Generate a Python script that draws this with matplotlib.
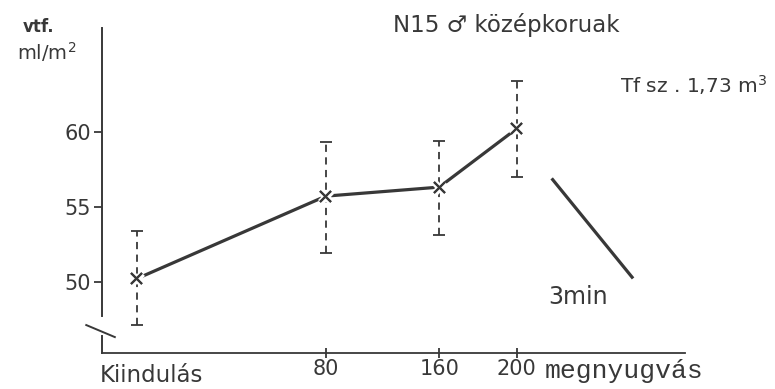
import matplotlib.pyplot as plt
from matplotlib import patheffects as pe

# terhelési szakaszok (Kiindulás, 80, 160, 200 W) és a megnyugvás
stage_labels = ["80", "160", "200"]
stage_pos = [0.0, 1.0, 1.6, 2.01]
vtf_mean = [50.2, 55.7, 56.3, 60.2]
vtf_hi = [53.4, 59.3, 59.4, 63.4]
vtf_lo = [47.1, 51.9, 53.1, 57.0]

# 3 perces megnyugvási szakasz
recovery_pos = [2.2, 2.62]
recovery_vals = [56.8, 50.3]

y_ticks = [50, 55, 60]

ink = "#383838"
plt.rcParams['font.family'] = ['DejaVu Sans']

fig = plt.figure(figsize=(7.75, 3.89), dpi=100)
ax = fig.add_axes([102 / 775, 36 / 389, 583 / 775, 325 / 389])
ax.set_xlim(-0.184, 2.90)
ax.set_ylim(45.25, 66.9)

# hibasávok szaggatott vonallal
err = ax.errorbar(stage_pos, vtf_mean,
                  yerr=[[m - lo for m, lo in zip(vtf_mean, vtf_lo)],
                        [hi - m for m, hi in zip(vtf_mean, vtf_hi)]],
                  fmt='none', ecolor=ink, elinewidth=1.3, capsize=4.5,
                  capthick=1.3)
err[2][0].set_linestyle((0, (4, 3)))

ax.plot(stage_pos, vtf_mean, color=ink, lw=2.3, solid_capstyle='butt')
ax.plot(stage_pos, vtf_mean, ls='none', marker='x', ms=8, mew=1.5,
        color=ink, path_effects=[pe.withStroke(linewidth=5, foreground='white'),
                                 pe.Normal()])
ax.plot(recovery_pos, recovery_vals, color=ink, lw=2.3)

# tengelyek: megszakított y tengely
for s in ['top', 'right', 'left']:
    ax.spines[s].set_visible(False)
ax.spines['bottom'].set_color(ink)
ax.spines['bottom'].set_linewidth(1.3)
ax.plot([0, 0], [0.114, 1.0], transform=ax.transAxes, color=ink, lw=1.4,
        clip_on=False)
ax.plot([0, 0], [0.0, 0.052], transform=ax.transAxes, color=ink, lw=1.4,
        clip_on=False)
ax.plot([-0.027, 0.022], [0.086, 0.049], transform=ax.transAxes, color=ink,
        lw=1.4, clip_on=False)

ax.set_yticks(y_ticks)
ax.set_yticklabels([str(t) for t in y_ticks], fontsize=15, color=ink)
ax.tick_params(axis='y', length=6, width=1.3, color=ink, pad=2)

ax.set_xticks(stage_pos[1:])
ax.set_xticklabels(stage_labels, fontsize=15, color=ink)
ax.tick_params(axis='x', direction='inout', length=7, width=1.3, color=ink,
               pad=1)

fig.text(100 / 775, 1 - 375 / 389, "Kiindulás", ha='left', va='center',
         fontsize=16.5, color=ink)
fig.text(545 / 775, 1 - 371 / 389, "megnyugvás", ha='left', va='center',
         fontsize=19, color=ink, family='Liberation Mono')

ax.text(2.176, 49.0, "3min", ha='left', va='center', fontsize=17, color=ink)

fig.text(39 / 775, 1 - 27 / 389, "vtf.", ha='center', va='center',
         fontsize=12, color=ink, weight='bold')
fig.text(47 / 775, 1 - 52 / 389, "ml/m$^2$", ha='center', va='center',
         fontsize=14, color=ink)
fig.text(393 / 775, 1 - 25 / 389, "N15 ♂ középkoruak", ha='left',
         va='center', fontsize=16.5, color=ink)
fig.text(620 / 775, 1 - 85 / 389, "Tf sz . 1,73 m$^3$", ha='left',
         va='center', fontsize=14.5, color=ink)

fig.savefig("out.png", dpi=100, facecolor='white')
